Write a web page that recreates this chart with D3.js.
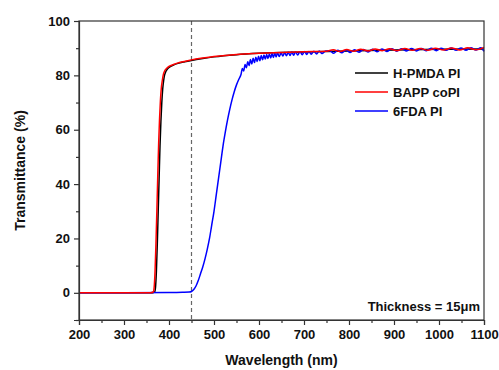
<!DOCTYPE html>
<html>
<head>
<meta charset="utf-8">
<script src="https://cdn.jsdelivr.net/npm/d3@7"></script>
<style>
  body { margin: 0; background: #fff; }
  text { font-family: 'Liberation Sans', Arial, sans-serif; font-weight: bold; fill: #111; }
</style>
</head>
<body>
<div id="wrapper"></div>
<script>
// data: [wavelength nm, transmittance %]
const hpmdaData = [
  [200, 0], [300, 0], [360, 0], [368, 0.3], [370, 2], [372, 8], [374, 18], [376, 30],
  [378, 42], [380, 54], [382, 63], [384, 70], [386, 75], [388, 78], [390, 80], [393, 81.4],
  [397, 82.4], [402, 83.1], [410, 83.8], [420, 84.4], [435, 85], [450, 85.5], [475, 86.2],
  [500, 86.8], [550, 87.6], [600, 88.1], [700, 88.6], [800, 89], [900, 89.3], [1000, 89.6],
  [1100, 89.7],
]
const bappData = [
  [200, 0], [300, 0], [358, 0], [365, 0.3], [367, 2], [369, 8], [371, 18], [373, 30],
  [375, 43], [377, 55], [379, 64], [381, 71], [383, 75.5], [385, 78], [387, 80], [390, 81.5],
  [395, 82.6], [400, 83.3], [410, 84], [425, 84.8], [450, 85.7], [500, 86.9], [550, 87.7],
  [600, 88.1], [650, 88.4], [700, 88.7], [750, 88.9], [765, 89.4], [780, 88.8], [795, 89.5],
  [810, 88.9], [826, 89.6], [842, 89], [858, 89.7], [874, 89.1], [890, 89.8], [907, 89.1],
  [924, 89.9], [941, 89.2], [958, 89.9], [975, 89.2], [992, 90], [1010, 89.3], [1028, 90.1],
  [1046, 89.3], [1064, 90.2], [1082, 89.4], [1100, 90.3],
]
const fdaData = [
  [200, 0], [300, 0], [400, 0.1], [430, 0.2], [445, 0.3], [450, 0.5], [455, 1.2], [460, 2.5],
  [465, 4.5], [470, 7], [475, 9.5], [480, 12.5], [485, 16], [490, 20], [495, 25], [500, 30],
  [505, 36], [510, 42], [515, 48], [520, 54], [525, 59], [530, 63.5], [535, 67.5], [540, 71],
  [545, 74], [550, 76.5], [555, 78.5], [560, 80.3], [563, 82.5], [566, 81.6], [569, 84],
  [572, 82.8], [575, 85], [578, 83.6], [581, 85.8], [584, 84.2], [587, 86.3], [590, 84.7],
  [593, 86.7], [596, 85.1], [599, 87], [602, 85.4], [605, 87.3], [608, 85.7], [611, 87.5],
  [614, 86], [617, 87.7], [620, 86.2], [623, 87.9], [626, 86.4], [629, 88], [632, 86.6],
  [635, 88.1], [638, 86.8], [641, 88.2], [645, 86.9], [649, 88.3], [653, 87.1], [657, 88.4],
  [661, 87.2], [665, 88.5], [669, 87.3], [673, 88.6], [677, 87.4], [681, 88.6], [686, 87.5],
  [691, 88.7], [696, 87.6], [701, 88.8], [706, 87.7], [711, 88.8], [716, 87.8], [722, 88.9],
  [728, 87.9], [734, 89], [740, 88], [748, 89], [757, 89.1], [766, 88.1], [775, 89.2],
  [784, 88.3], [793, 89.3], [802, 88.4], [812, 89.4], [822, 88.5], [832, 89.5], [842, 88.6],
  [852, 89.6], [862, 88.7], [873, 89.7], [884, 88.8], [895, 89.8], [906, 88.9], [917, 89.8],
  [928, 89], [939, 89.9], [950, 89], [961, 89.9], [972, 89.1], [983, 90], [994, 89.1],
  [1005, 90], [1016, 89.2], [1027, 90.1], [1038, 89.2], [1049, 90.1], [1060, 89.2],
  [1071, 90.2], [1082, 89.3], [1093, 90.2], [1100, 88.8],
]
const seriesNames = ['H-PMDA PI', 'BAPP coPI', '6FDA PI']
const seriesColors = ['#000000', '#ff0000', '#0000ff']
const xTicks = [200, 300, 400, 500, 600, 700, 800, 900, 1000, 1100]
const xMinorTicks = [250, 350, 450, 550, 650, 750, 850, 950, 1050]
const yTicks = [0, 20, 40, 60, 80, 100]
const yMinorTicks = [-10, 10, 30, 50, 70, 90]
const cutoffLine = 450

const dimensions = {
  width: 499,
  height: 370,
  margin: { top: 21, right: 15, bottom: 50, left: 79 },
}
dimensions.boundedWidth = dimensions.width - dimensions.margin.left - dimensions.margin.right
dimensions.boundedHeight = dimensions.height - dimensions.margin.top - dimensions.margin.bottom

const wrapper = d3
  .select('#wrapper')
  .append('svg')
  .attr('width', dimensions.width)
  .attr('height', dimensions.height)

const bounds = wrapper
  .append('g')
  .attr('transform', `translate(${dimensions.margin.left}, ${dimensions.margin.top})`)

const xScale = d3.scaleLinear().domain([200, 1100]).range([0, dimensions.boundedWidth])
const yScale = d3.scaleLinear().domain([-10, 100]).range([dimensions.boundedHeight, 0])

// dashed cut-off line
bounds
  .append('line')
  .attr('x1', xScale(cutoffLine))
  .attr('x2', xScale(cutoffLine))
  .attr('y1', 0)
  .attr('y2', dimensions.boundedHeight)
  .attr('stroke', '#666')
  .attr('stroke-width', 1.2)
  .attr('stroke-dasharray', '4,3')

// curves
const lineGenerator = d3
  .line()
  .x((d) => xScale(d[0]))
  .y((d) => yScale(d[1]))
  .curve(d3.curveMonotoneX)

const allSeries = [hpmdaData, bappData, fdaData]
bounds
  .append('g')
  .selectAll('path')
  .data([0, 2, 1])
  .enter()
  .append('path')
  .attr('fill', 'none')
  .attr('stroke', (i) => seriesColors[i])
  .attr('stroke-width', 1.5)
  .attr('d', (i) => lineGenerator(allSeries[i]))

// frame (top + right)
bounds
  .append('rect')
  .attr('width', dimensions.boundedWidth)
  .attr('height', dimensions.boundedHeight)
  .attr('fill', 'none')
  .attr('stroke', '#333')
  .attr('stroke-width', 1.2)

// axes
const fmt = d3.format('d')
bounds
  .append('g')
  .attr('transform', `translate(0, ${dimensions.boundedHeight})`)
  .call(d3.axisBottom(xScale).tickValues(xTicks).tickFormat(fmt).tickSize(5).tickPadding(5))
bounds
  .append('g')
  .attr('transform', `translate(0, ${dimensions.boundedHeight})`)
  .call(d3.axisBottom(xScale).tickValues(xMinorTicks).tickSize(3).tickFormat(''))
  .call((g) => g.select('.domain').remove())

bounds
  .append('g')
  .call(d3.axisLeft(yScale).tickValues(yTicks).tickFormat(fmt).tickSize(5).tickPadding(4))
bounds
  .append('g')
  .call(d3.axisLeft(yScale).tickValues(yMinorTicks).tickSize(3).tickFormat(''))
  .call((g) => g.select('.domain').remove())

wrapper.selectAll('.domain, .tick line').attr('stroke', '#333').attr('stroke-width', 1.2)
wrapper
  .selectAll('.tick text')
  .style('font-family', "'Liberation Sans', Arial, sans-serif")
  .style('font-weight', 'bold')
  .style('font-size', '13px')
  .attr('fill', '#111')

// axis labels
wrapper
  .append('text')
  .attr('x', dimensions.margin.left + dimensions.boundedWidth / 2)
  .attr('y', 365)
  .attr('text-anchor', 'middle')
  .style('font-size', '14px')
  .text('Wavelength (nm)')

wrapper
  .append('text')
  .attr('transform', `translate(25, ${dimensions.margin.top + dimensions.boundedHeight / 2}) rotate(-90)`)
  .attr('text-anchor', 'middle')
  .style('font-size', '14px')
  .text('Transmittance (%)')

// legend
const legendGroup = wrapper.append('g').attr('transform', 'translate(355, 73)')
const legendItems = legendGroup
  .selectAll('g')
  .data(seriesNames)
  .enter()
  .append('g')
  .attr('transform', (d, i) => `translate(0, ${i * 19})`)
legendItems
  .append('line')
  .attr('x1', 0)
  .attr('x2', 33)
  .attr('stroke', (d, i) => seriesColors[i])
  .attr('stroke-width', 1.5)
legendItems
  .append('text')
  .attr('x', 38)
  .attr('y', 5)
  .style('font-size', '13px')
  .text((d) => d)

// annotation
wrapper
  .append('text')
  .attr('x', 480)
  .attr('y', 311)
  .attr('text-anchor', 'end')
  .style('font-size', '13px')
  .text('Thickness = 15μm')
</script>
</body>
</html>
